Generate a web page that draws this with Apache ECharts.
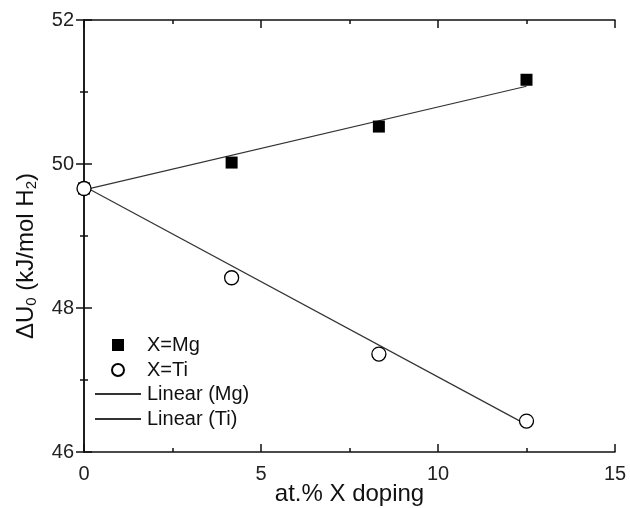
<!DOCTYPE html>
<html lang="en">
<head>
    <meta charset="UTF-8">
    <title>dU0 vs doping</title>
    <style>
        html,body{
            margin: 0;
            height: 100%;
            background: #fff;
        }
        #chart{
            width: 630px;
            height: 508px;
        }
    </style>
    <script src="https://cdn.jsdelivr.net/npm/echarts@6/dist/echarts.min.js"></script>
</head>
<body>
<div id="chart"></div>
<script>
    // values
    var doping = [0, 4.17, 8.33, 12.5];
    var mgU = [49.66, 50.02, 50.52, 51.17];
    var tiU = [49.66, 48.42, 47.36, 46.43];
    // fitted lines, end points
    var fitX = [0, 12.5];
    var mgFit = [49.64, 51.08];
    var tiFit = [49.69, 46.38];

    function pairs(xs, ys) {
        return xs.map(function (x, i) { return [x, ys[i]]; });
    }

    var font = 'Liberation Sans, Arial, sans-serif';
    var axisLine = {lineStyle: {color: '#111', width: 1.5}};
    var tick = {inside: true, length: 8, lineStyle: {color: '#111', width: 1.5}};
    var minor = {show: true, splitNumber: 2, length: 4, lineStyle: {color: '#111', width: 1.5}};
    var legendText = {fontSize: 20, color: '#111', fontFamily: font};

    var chart = echarts.init(document.getElementById('chart'));
    var option = {
        backgroundColor: '#fff',
        animation: false,
        textStyle: {fontFamily: font},
        grid: {left: 84, right: 15, top: 20, bottom: 56, outerBoundsMode: 'none'},
        legend: [{
            // markers
            orient: 'vertical',
            left: 111,
            top: 335,
            padding: 0,
            itemWidth: 12,
            itemHeight: 12,
            itemGap: 5,
            textStyle: Object.assign({padding: [0, 0, 0, 18]}, legendText),
            data: [
                {name: 'X=Mg', icon: 'rect'},
                {name: 'X=Ti', icon: 'circle'}
            ]
        }, {
            // fit lines
            orient: 'vertical',
            left: 94,
            top: 384,
            padding: 0,
            itemWidth: 46,
            itemHeight: 13,
            itemGap: 5,
            textStyle: Object.assign({padding: [0, 0, 0, 1]}, legendText),
            data: [
                {name: 'Linear (Mg)', itemStyle: {opacity: 0}},
                {name: 'Linear (Ti)', itemStyle: {opacity: 0}}
            ]
        }],
        xAxis: [{
            type: 'value',
            min: 0, max: 15, interval: 5,
            name: 'at.% X doping',
            nameLocation: 'middle',
            nameGap: 30,
            nameMoveOverlap: false,
            nameTextStyle: {fontSize: 24, color: '#111'},
            axisLine: axisLine,
            axisTick: tick,
            minorTick: minor,
            axisLabel: {fontSize: 20, color: '#222', margin: 12},
            splitLine: {show: false}
        }, {
            type: 'value', position: 'top',
            min: 0, max: 15, interval: 5,
            axisLine: axisLine,
            axisTick: tick,
            minorTick: minor,
            axisLabel: {show: false},
            splitLine: {show: false}
        }],
        yAxis: [{
            type: 'value',
            min: 46, max: 52, interval: 2,
            name: '{a|ΔU}{s|0}{a| (kJ/mol H}{s|2}{a|)}',
            nameLocation: 'middle',
            nameGap: 44,
            nameMoveOverlap: false,
            nameTextStyle: {
                padding: [0, 40, 0, 0],
                rich: {
                    a: {fontSize: 24, color: '#111', fontFamily: font, lineHeight: 28},
                    s: {fontSize: 15, color: '#111', fontFamily: font, lineHeight: 28, padding: [12, 0, 0, 0]}
                }
            },
            axisLine: axisLine,
            axisTick: tick,
            minorTick: minor,
            axisLabel: {fontSize: 20, color: '#222', margin: 10},
            splitLine: {show: false}
        }, {
            type: 'value', position: 'right',
            min: 46, max: 52, interval: 2,
            axisLine: axisLine,
            axisTick: tick,
            minorTick: minor,
            axisLabel: {show: false},
            splitLine: {show: false}
        }],
        series: [
            {
                name: 'Linear (Mg)',
                type: 'line',
                symbol: 'none',
                lineStyle: {color: '#333', width: 1.2},
                itemStyle: {color: '#333'},
                data: pairs(fitX, mgFit),
                z: 2
            },
            {
                name: 'Linear (Ti)',
                type: 'line',
                symbol: 'none',
                lineStyle: {color: '#333', width: 1.2},
                itemStyle: {color: '#333'},
                data: pairs(fitX, tiFit),
                z: 2
            },
            {
                name: 'X=Mg',
                type: 'scatter',
                symbol: 'rect',
                symbolSize: 12,
                itemStyle: {color: '#000', opacity: 1},
                data: pairs(doping, mgU),
                z: 3
            },
            {
                name: 'X=Ti',
                type: 'scatter',
                symbol: 'circle',
                symbolSize: 14,
                itemStyle: {color: '#fff', borderColor: '#000', borderWidth: 1.3, opacity: 1},
                data: pairs(doping, tiU),
                z: 4
            }
        ]
    };

    chart.setOption(option);
</script>
</body>
</html>
